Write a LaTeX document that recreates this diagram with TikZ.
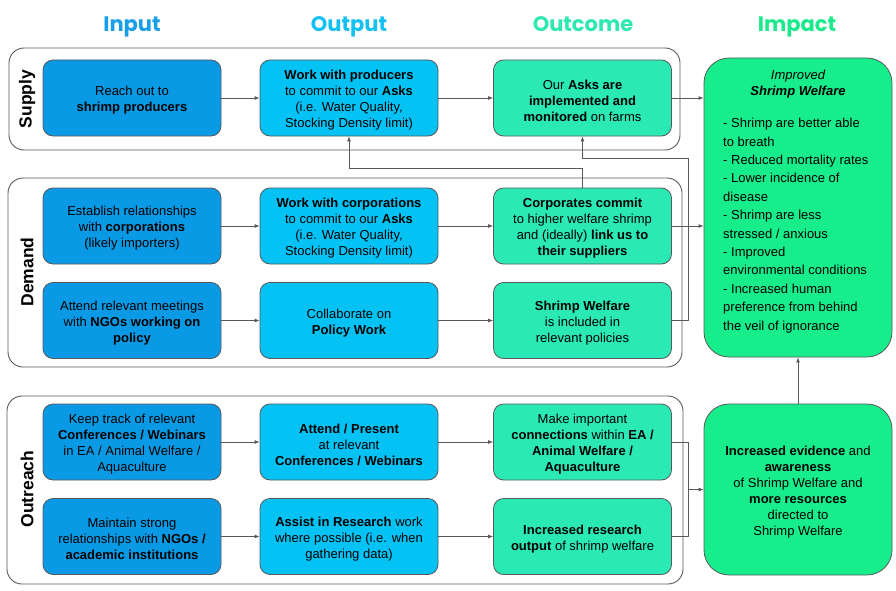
\documentclass[tikz,border=0pt]{standalone}
\usepackage{fontspec}
\setmainfont{Liberation Sans}
\newfontfamily\headfont{Poppins}
\usetikzlibrary{arrows.meta}
\definecolor{inblue}{HTML}{0A9AE5}
\definecolor{outcyan}{HTML}{05C2F5}
\definecolor{ocgreen}{HTML}{2BE9B4}
\definecolor{impgreen}{HTML}{18ED8C}
\definecolor{inhead}{HTML}{1A9FE6}
\definecolor{outhead}{HTML}{14C0F2}
\definecolor{ochead}{HTML}{2EE8B2}
\definecolor{imphead}{HTML}{1BEA8C}
\definecolor{edgegray}{HTML}{595959}

\begin{document}
\begin{tikzpicture}[x=1pt,y=-1pt,
    lane/.style={draw=edgegray,line width=0.9pt,rounded corners=15pt,fill=white},
    card/.style={draw=edgegray,line width=0.8pt,rounded corners=10pt,minimum width=178pt,minimum height=76pt,inner sep=0pt,align=center,font=\fontsize{13}{16}\selectfont,
        execute at begin node={\vbox\bgroup\kern5pt},execute at end node={\egroup}},
    inbox/.style={card,fill=inblue},
    outbox/.style={card,fill=outcyan},
    ocbox/.style={card,fill=ocgreen},
    impbox/.style={card,fill=impgreen,minimum width=188pt,rounded corners=25pt},
    head/.style={anchor=base,font=\headfont\bfseries\fontsize{21}{24}\selectfont},
    lanelabel/.style={rotate=90,font=\bfseries\fontsize{17.5}{20}\selectfont},
    link/.style={draw=edgegray,line width=0.8pt,-{Latex[length=5pt,width=4pt]}},
    joint/.style={draw=edgegray,line width=0.8pt}]
    \useasboundingbox (0,0) rectangle (896,591);

    \node[head,text=inhead] (hinput) at (132,31.5) {Input};
    \node[head,text=outhead] (houtput) at (349,31.5) {Output};
    \node[head,text=ochead] (houtcome) at (583,31.5) {Outcome};
    \node[head,text=imphead] (himpact) at (797,31.5) {Impact};

    \draw[lane] (9,48) rectangle (680,150);
    \draw[lane] (8,178) rectangle (682,367);
    \draw[lane] (7,396) rectangle (683,584);
    \node[lanelabel] (lsupply) at (27,99) {Supply};
    \node[lanelabel] (ldemand) at (27,272) {Demand};
    \node[lanelabel] (loutreach) at (27,489) {Outreach};

    \node[inbox] (reach) at (132,98) {Reach out to\\\textbf{shrimp producers}};
    \node[outbox] (workprod) at (349,98) {\textbf{Work with producers}\\to commit to our \textbf{Asks}\\(i.e. Water Quality,\\Stocking Density limit)};
    \node[ocbox] (asks) at (582.5,98) {Our \textbf{Asks are}\\\textbf{implemented and}\\\textbf{monitored} on farms};

    \node[inbox] (establish) at (132,226) {Establish relationships\\with \textbf{corporations}\\(likely importers)};
    \node[outbox] (workcorp) at (349,226) {\textbf{Work with corporations}\\to commit to our \textbf{Asks}\\(i.e. Water Quality,\\Stocking Density limit)};
    \node[ocbox] (corpcommit) at (582.5,226) {\textbf{Corporates commit}\\to higher welfare shrimp\\and (ideally) \textbf{link us to}\\\textbf{their suppliers}};

    \node[inbox] (meetings) at (132,320.5) {Attend relevant meetings\\with \textbf{NGOs working on}\\\textbf{policy}};
    \node[outbox] (policywork) at (349,320.5) {Collaborate on\\\textbf{Policy Work}};
    \node[ocbox] (policies) at (582.5,320.5) {\textbf{Shrimp Welfare}\\is included in\\relevant policies};

    \node[inbox] (keeptrack) at (132,442) {Keep track of relevant\\\textbf{Conferences / Webinars}\\in EA / Animal Welfare /\\Aquaculture};
    \node[outbox] (present) at (349,442) {\textbf{Attend / Present}\\at relevant\\\textbf{Conferences / Webinars}};
    \node[ocbox] (connections) at (582.5,442) {Make important\\\textbf{connections} within \textbf{EA /}\\\textbf{Animal Welfare /}\\\textbf{Aquaculture}};

    \node[inbox] (maintain) at (132,536.5) {Maintain strong\\relationships with \textbf{NGOs /}\\\textbf{academic institutions}};
    \node[outbox] (assist) at (349,536.5) {\textbf{Assist in Research} work\\where possible (i.e. when\\gathering data)};
    \node[ocbox] (research) at (582.5,536.5) {\textbf{Increased research}\\\textbf{output} of shrimp welfare};

    \node[impbox,minimum height=299pt] (improved) at (798,207.5) {};
    \node[align=center,inner sep=0pt,font=\fontsize{13}{16}\selectfont] (improvedtitle) at (798,84) {\itshape Improved\\\textbf{\textit{Shrimp Welfare}}};
    \node[anchor=north west,align=left,inner sep=0pt,font=\fontsize{13}{18.4}\selectfont] (improvedlist) at (723,118) {- Shrimp are better able\\to breath\\- Reduced mortality rates\\- Lower incidence of\\disease\\- Shrimp are less\\stressed / anxious\\- Improved\\environmental conditions\\- Increased human\\preference from behind\\the veil of ignorance};
    \node[impbox,minimum height=171pt] (evidence) at (798,489.5) {\textbf{Increased evidence} and\\\textbf{awareness}\\of Shrimp Welfare and\\\textbf{more resources}\\directed to\\Shrimp Welfare};

    \coordinate (uplink) at (688,158);
    \coordinate (merge) at (688,489.5);

    \draw[link] (reach) -- (workprod);
    \draw[link] (workprod) -- (asks);
    \draw[link] (asks.east) -- (asks.east -| improved.west);
    \draw[link] (establish) -- (workcorp);
    \draw[link] (workcorp) -- (corpcommit);
    \draw[link] (corpcommit.east) -- (corpcommit.east -| improved.west);
    \draw[link] (meetings) -- (policywork);
    \draw[link] (policywork) -- (policies);
    \draw[link] (policies.east) -| (uplink) -| (asks.south);
    \draw[link] (corpcommit.north) -- ++(0,-19) -| (workprod.south);
    \draw[link] (keeptrack) -- (present);
    \draw[link] (present) -- (connections);
    \draw[link] (maintain) -- (assist);
    \draw[link] (assist) -- (research);
    \draw[joint] (connections.east) -| (merge);
    \draw[joint] (research.east) -| (merge);
    \draw[link] (merge) -- (evidence.west);
    \draw[link] (evidence) -- (improved);
\end{tikzpicture}
\end{document}
